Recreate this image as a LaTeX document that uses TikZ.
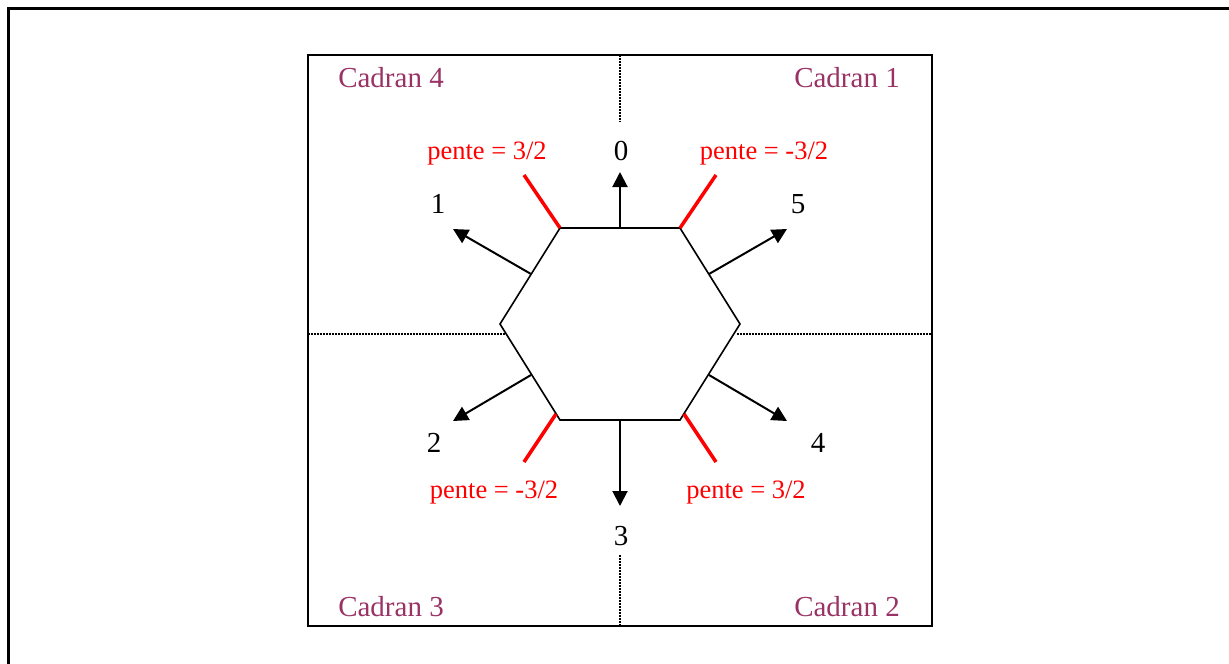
\documentclass[tikz,border=0pt]{standalone}
\usepackage{fontspec}
\setmainfont{Liberation Serif}
\usetikzlibrary{arrows.meta}
\definecolor{cadran}{HTML}{993366}
\begin{document}
\begin{tikzpicture}[x=1pt,y=-1pt,
  frame/.style={line width=3pt},
  box/.style={line width=2pt},
  grid/.style={line width=1.5pt, dash pattern=on 1.5pt off 1.5pt},
  hexa/.style={line width=1.6pt, line join=miter},
  dir/.style={line width=2pt, -{Triangle[length=15pt,width=15pt]}},
  slope/.style={red, line width=3.5pt},
  num/.style={anchor=base, inner sep=0pt, font=\fontsize{29}{34}\selectfont},
  pente/.style={anchor=base, inner sep=0pt, text=red, font=\fontsize{26.5}{32}\selectfont},
  quad/.style={anchor=base, inner sep=0pt, text=cadran, font=\fontsize{29}{34}\selectfont},
]
\useasboundingbox (0,0) rectangle (1229,664);
\clip (0,0) rectangle (1229,664);
\draw[frame] (8.5,8.5) rectangle (1260,700);
% quadrant box
\draw[box] (308,55) rectangle (932,626);
% axes (dotted)
\coordinate (vt1) at (620,55);  \coordinate (vt2) at (620,122);
\coordinate (vb1) at (620,555); \coordinate (vb2) at (620,626);
\coordinate (hl1) at (308,334); \coordinate (hl2) at (505,334);
\coordinate (hr1) at (737,334); \coordinate (hr2) at (932,334);
\draw[grid] (vt1) -- (vt2);
\draw[grid] (vb1) -- (vb2);
\draw[grid] (hl1) -- (hl2);
\draw[grid] (hr1) -- (hr2);
% hexagon
\coordinate (TL) at (560,228);
\coordinate (TR) at (680,228);
\coordinate (R)  at (740,324);
\coordinate (BR) at (680,420);
\coordinate (BL) at (560,420);
\coordinate (L)  at (500,324);
\draw[hexa] (TL) -- (TR) -- (R) -- (BR) -- (BL) -- (L) -- cycle;
% direction arrows
\coordinate (s0) at (620,228); \coordinate (e0) at (620,172);
\coordinate (s1) at (531,274); \coordinate (e1) at (453,229);
\coordinate (s2) at (531,375); \coordinate (e2) at (453,421);
\coordinate (s3) at (620,420); \coordinate (e3) at (620,506);
\coordinate (s4) at (709,375); \coordinate (e4) at (787,421);
\coordinate (s5) at (709,274); \coordinate (e5) at (787,229);
\draw[dir] (s0) -- (e0);
\draw[dir] (s1) -- (e1);
\draw[dir] (s2) -- (e2);
\draw[dir] (s3) -- (e3);
\draw[dir] (s4) -- (e4);
\draw[dir] (s5) -- (e5);
% red slope marks
\coordinate (rtl) at (524,175);
\coordinate (rtr) at (716,175);
\coordinate (rbl1) at (556,414); \coordinate (rbl2) at (524,462);
\coordinate (rbr1) at (684,414); \coordinate (rbr2) at (716,462);
\draw[slope] (TL) -- (rtl);
\draw[slope] (TR) -- (rtr);
\draw[slope] (rbl1) -- (rbl2);
\draw[slope] (rbr1) -- (rbr2);
% labels
\node[num] (n0) at (621,160) {0};
\node[num] (n1) at (438,213) {1};
\node[num] (n5) at (798,213) {5};
\node[num] (n2) at (434,452) {2};
\node[num] (n4) at (818,452) {4};
\node[num] (n3) at (621,545) {3};
\node[pente] (p1) at (487,159) {pente = 3/2};
\node[pente] (p2) at (764,159) {pente = -3/2};
\node[pente] (p3) at (494,498) {pente = -3/2};
\node[pente] (p4) at (746,498) {pente = 3/2};
\node[quad] (c4) at (391,87) {Cadran 4};
\node[quad] (c1) at (847,87) {Cadran 1};
\node[quad] (c3) at (391,616) {Cadran 3};
\node[quad] (c2) at (847,616) {Cadran 2};
\end{tikzpicture}
\end{document}
